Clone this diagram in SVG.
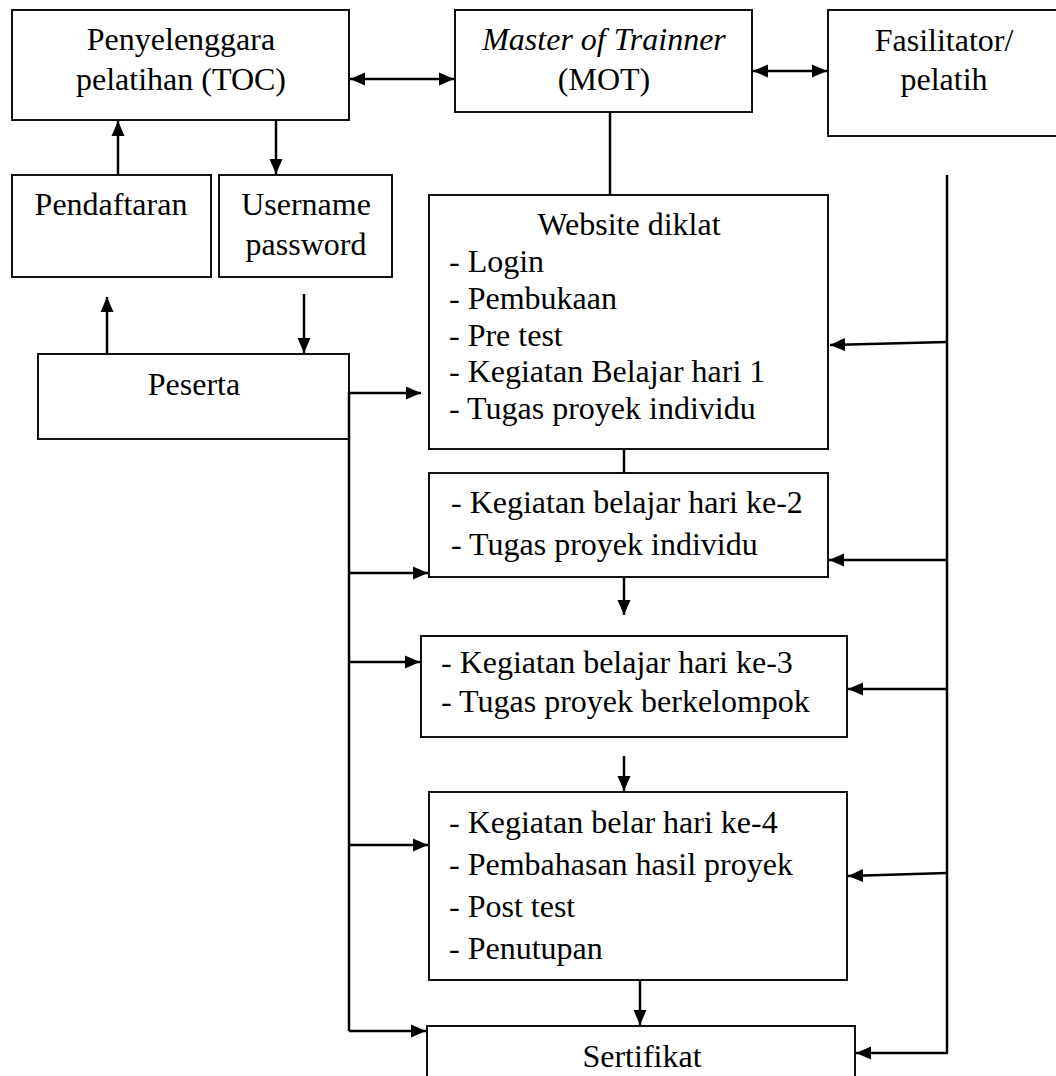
<svg xmlns="http://www.w3.org/2000/svg" width="1056" height="1076" viewBox="0 0 1056 1076">
<style>
.box{fill:#fff;stroke:#111;stroke-width:2}
.t{font-family:"Liberation Serif","Times New Roman",serif;font-size:32px;fill:#000}
.c{text-anchor:middle}
.i{font-style:italic}
.ln{fill:none;stroke:#000;stroke-width:2.5}
.ar{fill:none;stroke:#000;stroke-width:2.5;marker-end:url(#ah)}
.da{fill:none;stroke:#000;stroke-width:2.5;marker-end:url(#ah);marker-start:url(#ah)}
</style>
<defs>
<marker id="ah" markerUnits="userSpaceOnUse" markerWidth="16" markerHeight="14" refX="15" refY="6.5" orient="auto-start-reverse" viewBox="0 0 16 13">
<path d="M0,0 L15,6.5 L0,13 z" fill="#000"/>
</marker>
</defs>
<rect width="1056" height="1076" fill="#fff"/>

<g id="toc">
<rect class="box" x="12" y="10" width="337" height="110"/>
<text class="t c" x="181" y="50">Penyelenggara</text>
<text class="t c" x="181" y="90">pelatihan (TOC)</text>
</g>
<g id="mot">
<rect class="box" x="455" y="10" width="297" height="102"/>
<text class="t c i" x="604" y="50">Master of Trainner</text>
<text class="t c" x="604" y="90">(MOT)</text>
</g>
<g id="fasilitator">
<rect class="box" x="828" y="10" width="230" height="126"/>
<text class="t c" x="944" y="51">Fasilitator/</text>
<text class="t c" x="944" y="90">pelatih</text>
</g>
<g id="pendaftaran">
<rect class="box" x="12" y="175" width="199" height="102"/>
<text class="t c" x="111" y="215">Pendaftaran</text>
</g>
<g id="username">
<rect class="box" x="219" y="175" width="173" height="102"/>
<text class="t c" x="306" y="215">Username</text>
<text class="t c" x="306" y="255">password</text>
</g>
<g id="peserta">
<rect class="box" x="38" y="354" width="311" height="85"/>
<text class="t c" x="194" y="395">Peserta</text>
</g>
<g id="website">
<rect class="box" x="429" y="195" width="399" height="254"/>
<text class="t c" x="629" y="235">Website diklat</text>
<text class="t" x="449" y="272">- Login</text>
<text class="t" x="449" y="309">- Pembukaan</text>
<text class="t" x="449" y="346">- Pre test</text>
<text class="t" x="449" y="382">- Kegiatan Belajar hari 1</text>
<text class="t" x="449" y="419">- Tugas proyek individu</text>
</g>
<g id="hari2">
<rect class="box" x="429" y="473" width="399" height="104"/>
<text class="t" x="451" y="513">- Kegiatan belajar hari ke-2</text>
<text class="t" x="451" y="555">- Tugas proyek individu</text>
</g>
<g id="hari3">
<rect class="box" x="421" y="636" width="426" height="101"/>
<text class="t" x="441" y="673">- Kegiatan belajar hari ke-3</text>
<text class="t" x="441" y="712">- Tugas proyek berkelompok</text>
</g>
<g id="hari4">
<rect class="box" x="429" y="792" width="418" height="188"/>
<text class="t" x="449" y="833">- Kegiatan belar hari ke-4</text>
<text class="t" x="449" y="875">- Pembahasan hasil proyek</text>
<text class="t" x="449" y="917">- Post test</text>
<text class="t" x="449" y="959">- Penutupan</text>
</g>
<g id="sertifikat">
<rect class="box" x="427" y="1026" width="428" height="60"/>
<text class="t c" x="642" y="1067">Sertifikat</text>
</g>

<g id="connectors">
<path class="da" d="M350,79 H454"/>
<path class="da" d="M753,71 H827"/>
<path class="ar" d="M118,175 V121"/>
<path class="ar" d="M276,120 V174"/>
<path class="ar" d="M107,354 V297"/>
<path class="ar" d="M304,294 V353"/>
<path class="ln" d="M610,112 V195"/>
<path class="ln" d="M624,449 V473"/>
<path class="ar" d="M624,577 V615"/>
<path class="ar" d="M624,756 V791"/>
<path class="ar" d="M640,980 V1025"/>
<path class="ln" d="M349,392 V1031"/>
<path class="ar" d="M349,393 H421"/>
<path class="ar" d="M349,573 H428"/>
<path class="ar" d="M349,662 H420"/>
<path class="ar" d="M349,845 H428"/>
<path class="ar" d="M349,1031 H426"/>
<path class="ln" d="M947,175 V1053"/>
<path class="ar" d="M947,342 L830,345"/>
<path class="ar" d="M947,560 H829"/>
<path class="ar" d="M947,689 H848"/>
<path class="ar" d="M947,873 L848,876"/>
<path class="ar" d="M948,1053 H856"/>
</g>
</svg>
